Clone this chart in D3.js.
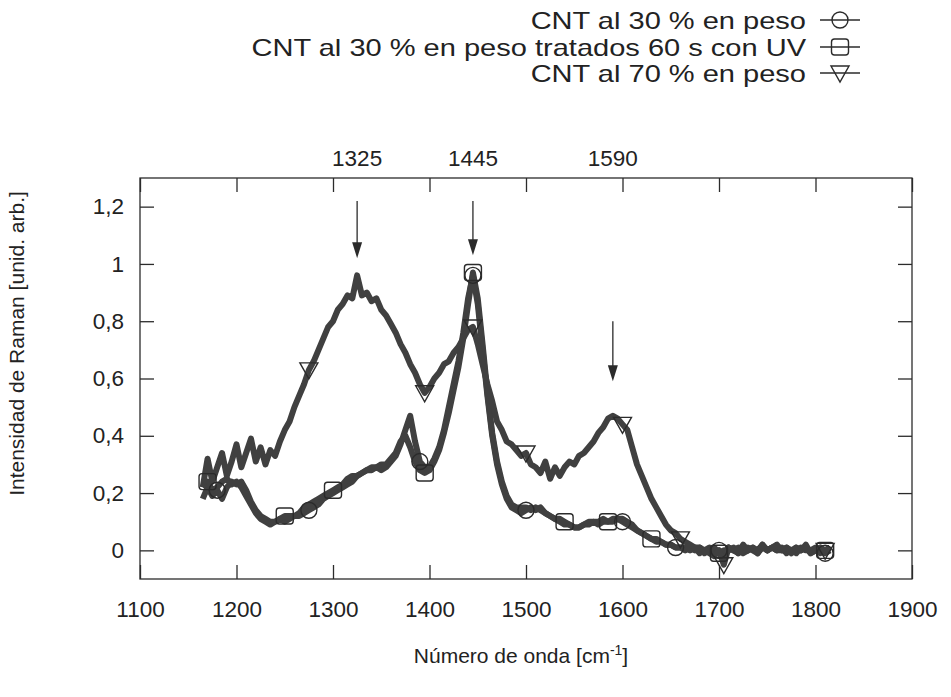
<!DOCTYPE html>
<html>
<head>
<meta charset="utf-8">
<script src="https://cdn.jsdelivr.net/npm/d3@7/dist/d3.min.js"></script>
<style>
  html, body { margin: 0; padding: 0; background: #fff; }
  svg { display: block; }
  text { font-family: "Liberation Sans", Arial, Helvetica, sans-serif; fill: #222; }
</style>
</head>
<body>
<svg id="chart" width="951" height="697"></svg>
<script>
// ---------- data ----------
const seriesNames = [
  "CNT al 30 % en peso",
  "CNT al 30 % en peso tratados 60 s con UV",
  "CNT al 70 % en peso"
];
const wavenumbers = d3.range(1165, 1816, 5);

const cnt30 = [
  .18,.22,.19,.21,.18,.22,.24,.23,.24,.21,
  .17,.14,.12,.11,.10,.10,.11,.10,.11,.12,
  .12,.13,.14,.15,.16,.18,.19,.20,.21,.22,
  .23,.24,.26,.27,.28,.28,.29,.28,.29,.31,
  .33,.37,.42,.47,.38,.31,.29,.29,.32,.36,
  .42,.50,.58,.66,.76,.88,.96,.86,.70,.54,
  .40,.30,.23,.18,.15,.14,.13,.14,.15,.14,
  .15,.13,.12,.11,.10,.09,.09,.08,.08,.09,
  .09,.10,.09,.10,.10,.11,.11,.10,.09,.08,
  .07,.06,.05,.04,.04,.03,.02,.02,.01,.01,
  .01,.00,.01,-.01,.00,.01,-.01,.00,-.02,.01,
  .00,.01,-.01,.00,.01,.00,.02,.00,.01,.00,
  .01,-.01,.00,.01,.00,.01,-.01,.00,.01,-.01,
  .00
];
const cnt30uv = [
  .22,.24,.21,.22,.24,.25,.23,.24,.22,.19,
  .16,.13,.11,.10,.09,.10,.11,.12,.12,.12,
  .13,.15,.16,.17,.18,.19,.20,.21,.22,.23,
  .25,.26,.26,.27,.28,.29,.29,.30,.30,.32,
  .34,.38,.40,.36,.31,.28,.27,.28,.31,.35,
  .41,.48,.56,.64,.74,.86,.97,.88,.72,.55,
  .41,.31,.24,.19,.16,.15,.15,.15,.14,.15,
  .14,.13,.12,.11,.11,.10,.09,.08,.08,.09,
  .10,.10,.10,.11,.10,.10,.11,.11,.10,.09,
  .07,.06,.05,.04,.03,.03,.02,.02,.01,.01,
  .00,.01,.00,.01,-.01,.00,.01,-.01,.00,.00,
  .01,-.01,.00,.01,.00,-.01,.01,.00,.01,.00,
  .00,.01,.00,-.01,.01,.00,.00,.01,-.01,.00,
  .01
];
const cnt70 = [
  .22,.32,.24,.29,.34,.26,.31,.37,.29,.34,
  .39,.31,.36,.30,.35,.33,.38,.42,.45,.50,
  .54,.58,.63,.66,.70,.74,.78,.80,.84,.86,
  .89,.88,.96,.89,.90,.87,.88,.84,.82,.79,
  .76,.72,.69,.65,.62,.58,.55,.57,.60,.62,
  .65,.66,.69,.71,.74,.77,.78,.72,.65,.58,
  .52,.45,.42,.38,.37,.35,.33,.34,.30,.29,
  .27,.31,.25,.29,.26,.29,.31,.30,.33,.34,
  .36,.38,.41,.43,.46,.47,.46,.44,.42,.36,
  .30,.26,.22,.18,.15,.12,.09,.07,.06,.04,
  .03,.02,.01,.01,.00,-.01,-.02,.00,-.05,.01,
  .00,-.01,.02,.00,.01,-.01,.02,.00,.01,.02,
  .00,.01,-.01,.01,.00,.02,-.01,.00,.01,.00,
  .01
];
// wavenumbers at which the point symbols are drawn
const circleAt   = [1180, 1275, 1390, 1445, 1500, 1600, 1655, 1700, 1810];
const squareAt   = [1170, 1250, 1300, 1395, 1445, 1540, 1585, 1630, 1700, 1810];
const triangleAt = [1275, 1395, 1445, 1500, 1600, 1660, 1705, 1810];

const xTicks = [1100, 1200, 1300, 1400, 1500, 1600, 1700, 1800, 1900];
const yTicks = [0, 0.2, 0.4, 0.6, 0.8, 1, 1.2];
const yTickLabels = ["0", "0,2", "0,4", "0,6", "0,8", "1", "1,2"];
const peakLabels = [1325, 1445, 1590];
const arrowTop = [1.22, 1.22, 0.80];
const arrowTip = [1.02, 1.03, 0.59];

// ---------- layout ----------
const svg = d3.select("#chart");
const M = { left: 140, right: 912, top: 178, bottom: 579 };
const x = d3.scaleLinear().domain([1100, 1900]).range([M.left, M.right]);
const y = d3.scaleLinear().domain([-0.1, 1.3]).range([M.bottom, M.top]);
const ink = "#2b2b2b";
const fs = 22.5;

// frame
svg.append("rect")
  .attr("x", M.left).attr("y", M.top)
  .attr("width", M.right - M.left).attr("height", M.bottom - M.top)
  .attr("fill", "none").attr("stroke", ink).attr("stroke-width", 1.3);

// axes (inner ticks on all 4 sides)
const tickLen = 14;
const axB = svg.append("g").attr("transform", `translate(0,${M.bottom})`)
  .call(d3.axisBottom(x).tickValues(xTicks).tickSize(-tickLen).tickPadding(22).tickFormat(d3.format("d")));
const axT = svg.append("g").attr("transform", `translate(0,${M.top})`)
  .call(d3.axisTop(x).tickValues(xTicks).tickSize(-tickLen).tickFormat(""));
const axL = svg.append("g").attr("transform", `translate(${M.left},0)`)
  .call(d3.axisLeft(y).tickValues(yTicks).tickSize(-tickLen).tickPadding(16)
    .tickFormat((d, i) => yTickLabels[i]));
const axR = svg.append("g").attr("transform", `translate(${M.right},0)`)
  .call(d3.axisRight(y).tickValues(yTicks).tickSize(-tickLen).tickFormat(""));
[axB, axT, axL, axR].forEach(g => {
  g.select(".domain").remove();
  g.selectAll(".tick line").attr("stroke", ink).attr("stroke-width", 1.3);
  g.selectAll(".tick text").attr("font-size", fs).attr("fill", "#222")
    .attr("font-family", '"Liberation Sans", Arial, sans-serif');
});

// peak labels on top
svg.append("g").selectAll("text").data(peakLabels).join("text")
  .attr("x", d => x(d)).attr("y", M.top - 12)
  .attr("text-anchor", "middle").attr("font-size", fs).text(d => d);

// arrows
const arrows = svg.append("g");
peakLabels.forEach((p, i) => {
  const tip = y(arrowTip[i]);
  arrows.append("line")
    .attr("x1", x(p)).attr("x2", x(p))
    .attr("y1", y(arrowTop[i])).attr("y2", tip - 10)
    .attr("stroke", ink).attr("stroke-width", 1.3);
  arrows.append("path")
    .attr("d", `M${x(p) - 5},${tip - 16} L${x(p) + 5},${tip - 16} L${x(p)},${tip} Z`)
    .attr("fill", ink);
});

// lines
const line = d3.line().x(d => x(d[0])).y(d => y(d[1])).curve(d3.curveLinear);
const allSeries = [cnt30, cnt30uv, cnt70];
const plot = svg.append("g");
allSeries.forEach(s => {
  const pts = wavenumbers.map((w, i) => [w, s[i]]);
  plot.append("path").datum(pts)
    .attr("d", line)
    .attr("fill", "none").attr("stroke", "#404040")
    .attr("stroke-width", 6).attr("stroke-linejoin", "round");
});

// markers
const valAt = (s, w) => s[wavenumbers.indexOf(w)];
function drawSymbol(g, kind, cx, cy) {
  if (kind === 0) {
    g.append("circle").attr("cx", cx).attr("cy", cy).attr("r", 8)
      .attr("fill", "none").attr("stroke", ink).attr("stroke-width", 1.4);
  } else if (kind === 1) {
    g.append("rect").attr("x", cx - 8.5).attr("y", cy - 8).attr("width", 17).attr("height", 16)
      .attr("rx", 3).attr("fill", "none").attr("stroke", ink).attr("stroke-width", 1.4);
  } else {
    g.append("path").attr("d", `M${cx - 9},${cy - 7} L${cx + 9},${cy - 7} L${cx},${cy + 9} Z`)
      .attr("fill", "none").attr("stroke", ink).attr("stroke-width", 1.4);
  }
}
const markerSets = [circleAt, squareAt, triangleAt];
const mk = svg.append("g");
markerSets.forEach((set, k) => {
  set.forEach(w => drawSymbol(mk, k, x(w), y(valAt(allSeries[k], w))));
});

// legend (the reference face is wider than Liberation Sans: stretch uniformly)
const legendY = [20, 47, 73];
const legendRight = 806;
const lg = svg.append("g");
seriesNames.forEach((n, k) => {
  lg.append("text")
    .attr("transform", `translate(${legendRight},${legendY[k]}) scale(1.21,1)`)
    .attr("dy", "0.36em")
    .attr("text-anchor", "end").attr("font-size", 24).text(n);
  lg.append("line").attr("x1", 820).attr("x2", 860).attr("y1", legendY[k]).attr("y2", legendY[k])
    .attr("stroke", ink).attr("stroke-width", 1.3);
  drawSymbol(lg, k, 840, legendY[k]);
});

// axis titles
svg.append("text")
  .attr("transform", `translate(24,${(M.top + M.bottom) / 2 - 35}) rotate(-90)`)
  .attr("text-anchor", "middle").attr("font-size", 21).text("Intensidad de Raman [unid. arb.]");
const xt = svg.append("text").attr("x", (M.left + M.right) / 2 - 5).attr("y", 663)
  .attr("text-anchor", "middle").attr("font-size", 21);
xt.append("tspan").text("Número de onda [cm");
xt.append("tspan").attr("dy", -8).attr("font-size", 14).text("-1");
xt.append("tspan").attr("dy", 8).text("]");
</script>
</body>
</html>
